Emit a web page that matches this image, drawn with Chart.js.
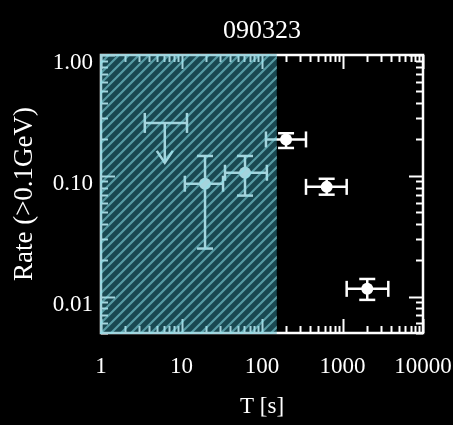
<!DOCTYPE html>
<html>
<head>
<meta charset="utf-8">
<script src="https://cdn.jsdelivr.net/npm/chart.js@4"></script>
<style>
  html, body { margin: 0; padding: 0; background: #000; }
</style>
</head>
<body>
<canvas id="chart" width="453" height="425"></canvas>
<script>
// detections: T [s] with bin edges, rate (>0.1 GeV) with error range
const tCenter  = [19.6, 61.5, 199, 636, 2030];
const tLow     = [11, 34.7, 112, 352, 1127];
const tHigh    = [32.8, 115, 352, 1127, 3706];
const rate     = [0.086, 0.106, 0.200, 0.081, 0.0116];
const rateLow  = [0.025, 0.0686, 0.170, 0.0698, 0.0094];
const rateHigh = [0.146, 0.146, 0.225, 0.0945, 0.014];

// upper limit in the first bin
const ulT = [6.2];
const ulTLow = [3.5];
const ulTHigh = [11.7];
const ulRate = [0.274];
const ulArrowTo = [0.128];

// shaded interval (prompt phase)
const hatchStart = 1;
const hatchEnd = 153;

const xTicks = [1, 10, 100, 1000, 10000];
const yTicks = [0.01, 0.1, 1];

const serif = "'Liberation Serif', 'DejaVu Serif', serif";

function drawCap(ctx, x1, y1, x2, y2) {
  ctx.beginPath();
  ctx.moveTo(x1, y1);
  ctx.lineTo(x2, y2);
  ctx.stroke();
}

const errorBars = {
  id: 'errorBars',
  beforeDatasetsDraw(chart) {
    const { ctx, scales: { x, y } } = chart;
    ctx.save();
    ctx.strokeStyle = '#fff';
    ctx.lineWidth = 2.5;
    const cap = 8;
    tCenter.forEach((t, i) => {
      const px = x.getPixelForValue(t), py = y.getPixelForValue(rate[i]);
      const xl = x.getPixelForValue(tLow[i]), xh = x.getPixelForValue(tHigh[i]);
      const yl = y.getPixelForValue(rateLow[i]), yh = y.getPixelForValue(rateHigh[i]);
      drawCap(ctx, xl, py, xh, py);
      drawCap(ctx, xl, py - cap, xl, py + cap);
      drawCap(ctx, xh, py - cap, xh, py + cap);
      drawCap(ctx, px, yl, px, yh);
      drawCap(ctx, px - cap, yl, px + cap, yl);
      drawCap(ctx, px - cap, yh, px + cap, yh);
    });
    ulT.forEach((t, i) => {
      const px = x.getPixelForValue(t), py = y.getPixelForValue(ulRate[i]);
      const xl = x.getPixelForValue(ulTLow[i]), xh = x.getPixelForValue(ulTHigh[i]);
      const tip = y.getPixelForValue(ulArrowTo[i]);
      drawCap(ctx, xl, py, xh, py);
      drawCap(ctx, xl, py - 10, xl, py + 10);
      drawCap(ctx, xh, py - 10, xh, py + 10);
      drawCap(ctx, px, py, px, tip);
      ctx.beginPath();
      ctx.moveTo(px - 8, tip - 12);
      ctx.lineTo(px, tip);
      ctx.lineTo(px + 8, tip - 12);
      ctx.stroke();
    });
    ctx.restore();
  }
};

const frameTicks = {
  id: 'frameTicks',
  afterDatasetsDraw(chart) {
    const { ctx, chartArea: a, scales: { x, y } } = chart;
    ctx.save();
    ctx.strokeStyle = '#fff';
    ctx.lineWidth = 2;
    for (let d = 0; d <= 4; d++) {
      for (let k = 1; k <= 9; k++) {
        const v = k * Math.pow(10, d);
        if (v > x.max) break;
        const px = Math.round(x.getPixelForValue(v)) + 0.5;
        const len = k === 1 ? 14 : 7;
        drawCap(ctx, px, a.bottom, px, a.bottom - len);
        drawCap(ctx, px, a.top, px, a.top + len);
      }
    }
    for (let d = -3; d <= 0; d++) {
      for (let k = 1; k <= 9; k++) {
        const v = k * Math.pow(10, d);
        if (v < y.min || v > y.max) continue;
        const py = Math.round(y.getPixelForValue(v)) + 0.5;
        const len = k === 1 ? 14 : 7;
        drawCap(ctx, a.left, py, a.left + len, py);
        drawCap(ctx, a.right, py, a.right - len, py);
      }
    }
    ctx.lineWidth = 2.5;
    ctx.strokeRect(a.left, a.top, a.right - a.left, a.bottom - a.top);
    ctx.restore();
  }
};

const hatch = {
  id: 'hatch',
  afterDraw(chart) {
    const { ctx, chartArea: a, scales: { x } } = chart;
    const x0 = x.getPixelForValue(hatchStart) - 1;
    const x1 = x.getPixelForValue(hatchEnd);
    const top = a.top - 1, bottom = a.bottom + 1;
    const h = bottom - top;
    ctx.save();
    ctx.beginPath();
    ctx.rect(x0, top, x1 - x0, h);
    ctx.clip();
    ctx.fillStyle = 'rgba(55, 160, 180, 0.45)';
    ctx.fillRect(x0, top, x1 - x0, h);
    ctx.strokeStyle = 'rgba(140, 225, 235, 0.55)';
    ctx.lineWidth = 2.2;
    for (let o = -h; o < x1 - x0 + h; o += 10) {
      ctx.beginPath();
      ctx.moveTo(x0 + o, bottom);
      ctx.lineTo(x0 + o + h, top);
      ctx.stroke();
    }
    ctx.restore();
  }
};

new Chart(document.getElementById('chart'), {
  type: 'scatter',
  data: {
    datasets: [{
      label: 'detections',
      data: tCenter.map((t, i) => ({ x: t, y: rate[i] })),
      pointRadius: 6,
      pointBackgroundColor: '#fff',
      pointBorderColor: '#fff',
      pointBorderWidth: 0
    }, {
      label: 'upper limit',
      data: ulT.map((t, i) => ({ x: t, y: ulRate[i] })),
      pointRadius: 0
    }]
  },
  options: {
    responsive: false,
    animation: false,
    layout: { padding: { left: 0, right: 30, top: 0, bottom: 0 } },
    plugins: {
      legend: { display: false },
      tooltip: { enabled: false },
      title: {
        display: true,
        text: '090323',
        color: '#fff',
        fullSize: false,
        font: { family: serif, size: 26, weight: 'normal' },
        padding: { top: 16, bottom: 7.8 }
      }
    },
    scales: {
      x: {
        type: 'logarithmic',
        min: 1,
        max: 10000,
        afterBuildTicks: (s) => { s.ticks = xTicks.map(v => ({ value: v })); },
        afterFit: (s) => { s.height = 92; s.paddingLeft = 0; s.paddingRight = 0; },
        grid: { display: false, drawTicks: false },
        border: { display: false },
        ticks: {
          color: '#fff',
          padding: 20,
          maxRotation: 0,
          font: { family: serif, size: 23 },
          callback: (v) => String(v)
        },
        title: {
          display: true,
          text: 'T [s]',
          color: '#fff',
          font: { family: serif, size: 23 },
          padding: { top: 0, bottom: 4 }
        }
      },
      y: {
        type: 'logarithmic',
        min: 0.005,
        max: 1,
        afterBuildTicks: (s) => { s.ticks = yTicks.map(v => ({ value: v })); },
        afterFit: (s) => { s.width = 101; s.paddingTop = 0; s.paddingBottom = 0; },
        grid: { display: false, drawTicks: false },
        border: { display: false },
        ticks: {
          color: '#fff',
          padding: 8,
          labelOffset: 8,
          font: { family: serif, size: 23 },
          callback: (v) => Number(v).toFixed(2)
        },
        title: {
          display: true,
          text: 'Rate (>0.1GeV)',
          color: '#fff',
          font: { family: serif, size: 27 },
          padding: { top: 9, bottom: 0 }
        }
      }
    }
  },
  plugins: [errorBars, frameTicks, hatch]
});
</script>
</body>
</html>
